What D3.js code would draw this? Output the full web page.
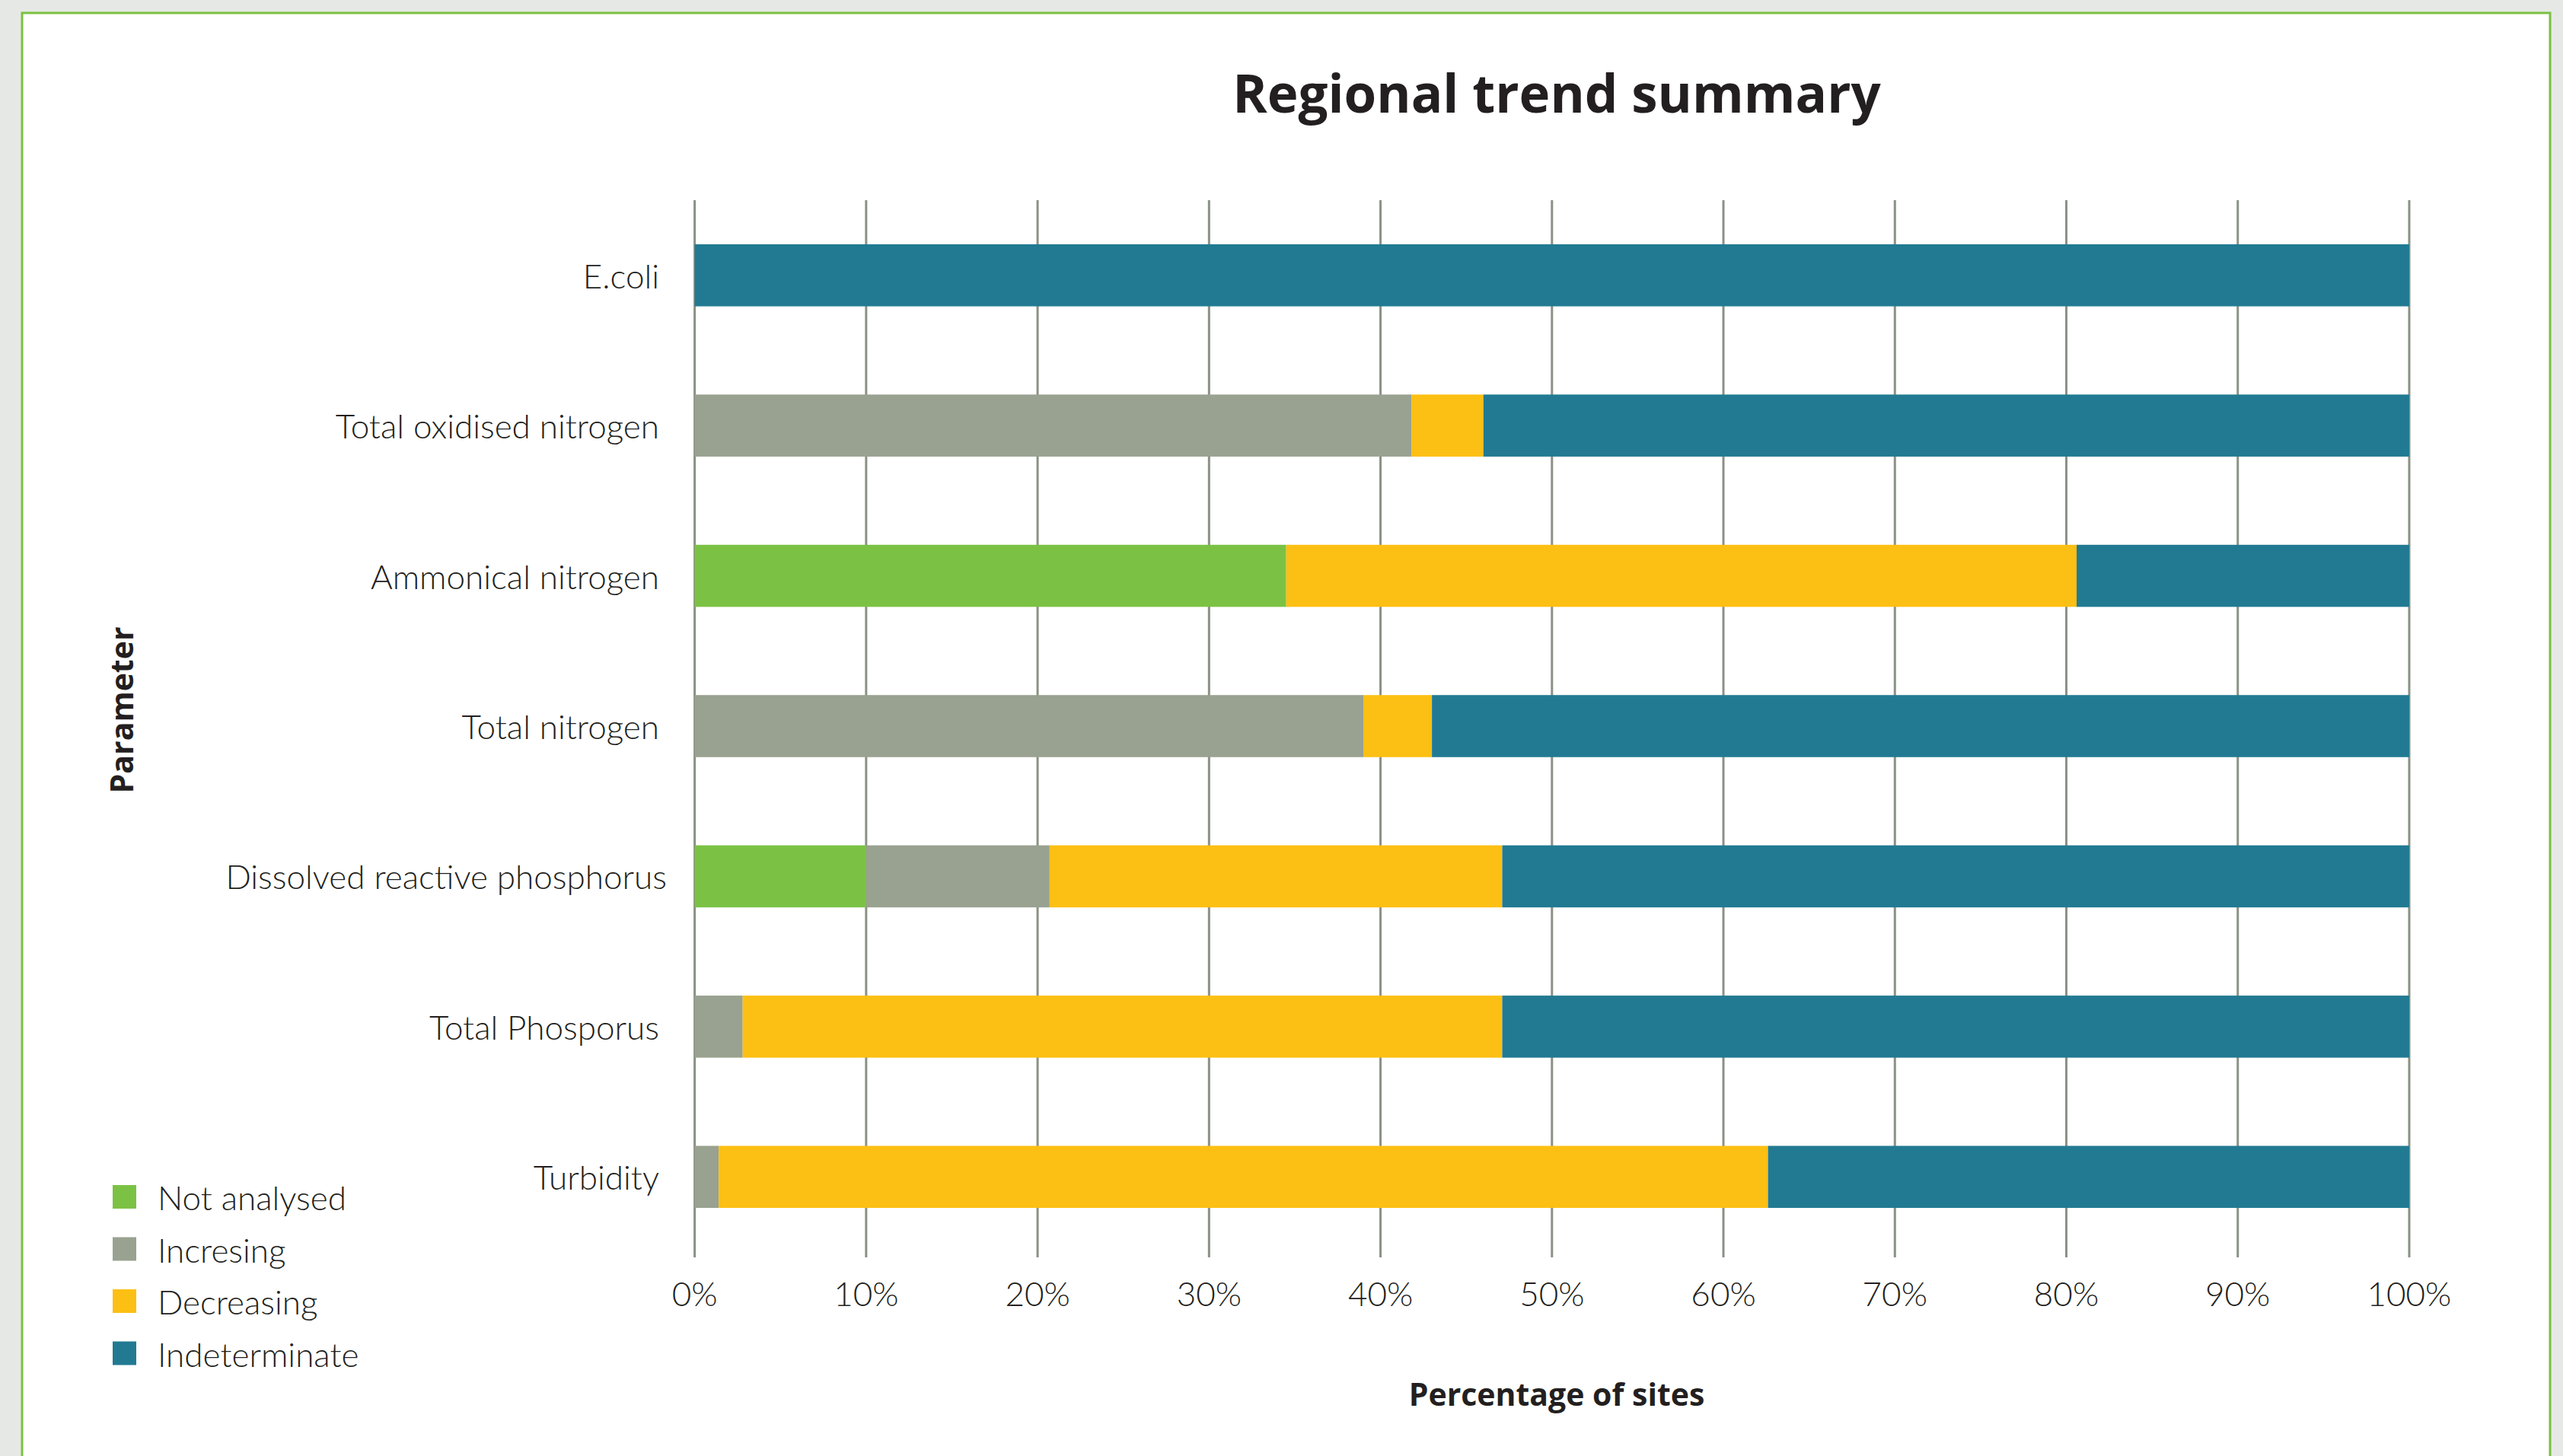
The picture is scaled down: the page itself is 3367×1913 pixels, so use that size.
<!DOCTYPE html>
<html>
<head>
<meta charset="utf-8">
<script src="https://cdn.jsdelivr.net/npm/d3@7"></script>
<style>
  body { margin: 0; background: #e6e8e5; }
  svg { display: block; }
</style>
</head>
<body>
<div id="my_dataviz"></div>
<script>
// data (percentage of sites)
var parameters = ["E.coli", "Total oxidised nitrogen", "Ammonical nitrogen", "Total nitrogen",
                  "Dissolved reactive phosphorus", "Total Phosporus", "Turbidity"]
var notAnalysed   = [0, 0, 34.5, 0, 10.0, 0, 0]
var increasing    = [0, 41.8, 0, 39.0, 10.7, 2.8, 1.4]
var decreasing    = [0, 4.2, 46.1, 4.0, 26.4, 44.3, 61.2]
var indeterminate = [100, 54.0, 19.4, 57.0, 52.9, 52.9, 37.4]
var seriesNames = ["Not analysed", "Increasing", "Decreasing", "Indeterminate"]
var legendLabels = ["Not analysed", "Incresing", "Decreasing", "Indeterminate"]
var xTicks = [0, 10, 20, 30, 40, 50, 60, 70, 80, 90, 100]

var colors = ["#7bc244", "#99a190", "#fcbf13", "#217a92"]

var width = 3367
    height = 1913

var lightFont = "Lato, 'Open Sans', sans-serif"
var boldFont = "'Open Sans', Lato, sans-serif"

var svg = d3.select("#my_dataviz")
  .append("svg")
    .attr("width", width)
    .attr("height", height)

// white panel with the green frame
svg.append("rect")
  .attr("x", 29)
  .attr("y", 17)
  .attr("width", 3321)
  .attr("height", height)
  .attr("fill", "#fff")
  .attr("stroke", "#7ac143")
  .attr("stroke-width", 3)

// build rows for the stack
var table = parameters.map(function(p, i) {
  return {param: p, "Not analysed": notAnalysed[i], "Increasing": increasing[i],
          "Decreasing": decreasing[i], "Indeterminate": indeterminate[i]}
})
var stacked = d3.stack().keys(seriesNames)(table)

var x = d3.scaleLinear()
  .domain([0, 100])
  .range([912.6, 3165])

var y = d3.scaleBand()
  .domain(parameters)
  .range([263, 1645])
  .paddingInner(0.587)
  .paddingOuter(0.2935)

var color = d3.scaleOrdinal()
  .domain(seriesNames)
  .range(colors)

// vertical gridlines + ticks under the bars
svg.append("g")
  .selectAll("line")
  .data(xTicks)
  .enter()
  .append("line")
    .attr("x1", function(d) { return x(d) })
    .attr("x2", function(d) { return x(d) })
    .attr("y1", 263)
    .attr("y2", 1652)
    .attr("stroke", "#8a9284")
    .attr("stroke-width", 3)

// the bars
svg.append("g")
  .selectAll("g")
  .data(stacked)
  .enter()
  .append("g")
    .attr("fill", function(d) { return color(d.key) })
  .selectAll("rect")
  .data(function(d) { return d })
  .enter()
  .append("rect")
    .attr("x", function(d) { return x(d[0]) })
    .attr("y", function(d) { return y(d.data.param) })
    .attr("width", function(d) { return x(d[1]) - x(d[0]) })
    .attr("height", y.bandwidth())

// x tick labels
svg.append("g")
  .selectAll("text")
  .data(xTicks)
  .enter()
  .append("text")
    .attr("x", function(d) { return x(d) })
    .attr("y", 1716)
    .attr("text-anchor", "middle")
    .style("font-family", lightFont)
    .style("font-weight", 300)
    .style("font-size", "44px")
    .style("fill", "#231f20")
    .text(function(d) { return d + "%" })

// category labels
svg.append("g")
  .selectAll("text")
  .data(parameters)
  .enter()
  .append("text")
    .attr("x", function(d) { return d === "Dissolved reactive phosphorus" ? 876 : 866 })
    .attr("y", function(d) { return y(d) + y.bandwidth() / 2 + 17 })
    .attr("text-anchor", "end")
    .style("font-family", lightFont)
    .style("font-weight", 300)
    .style("font-size", "44px")
    .style("fill", "#231f20")
    .text(function(d) { return d })

// titles
svg.append("text")
  .attr("x", 2045)
  .attr("y", 148)
  .attr("text-anchor", "middle")
  .style("font-family", boldFont)
  .style("font-weight", "bold")
  .style("font-size", "69px")
  .style("fill", "#231f20")
  .text("Regional trend summary")

svg.append("text")
  .attr("x", 2045)
  .attr("y", 1847)
  .attr("text-anchor", "middle")
  .style("font-family", boldFont)
  .style("font-weight", "bold")
  .style("font-size", "41px")
  .style("fill", "#231f20")
  .text("Percentage of sites")

svg.append("text")
  .attr("transform", "translate(175,933) rotate(-90)")
  .attr("text-anchor", "middle")
  .style("font-family", boldFont)
  .style("font-weight", "bold")
  .style("font-size", "41px")
  .style("fill", "#231f20")
  .text("Parameter")

// legend
var size = 31
var legend = svg.append("g")
  .selectAll("g")
  .data(seriesNames)
  .enter()
  .append("g")
    .attr("transform", function(d, i) { return "translate(148," + (1557 + i * 68.5) + ")" })

legend.append("rect")
  .attr("width", size)
  .attr("height", size)
  .attr("fill", function(d) { return color(d) })

legend.append("text")
  .attr("x", 59)
  .attr("y", 33)
  .style("font-family", lightFont)
  .style("font-weight", 300)
  .style("font-size", "44px")
  .style("fill", "#231f20")
  .text(function(d, i) { return legendLabels[i] })
</script>
</body>
</html>
